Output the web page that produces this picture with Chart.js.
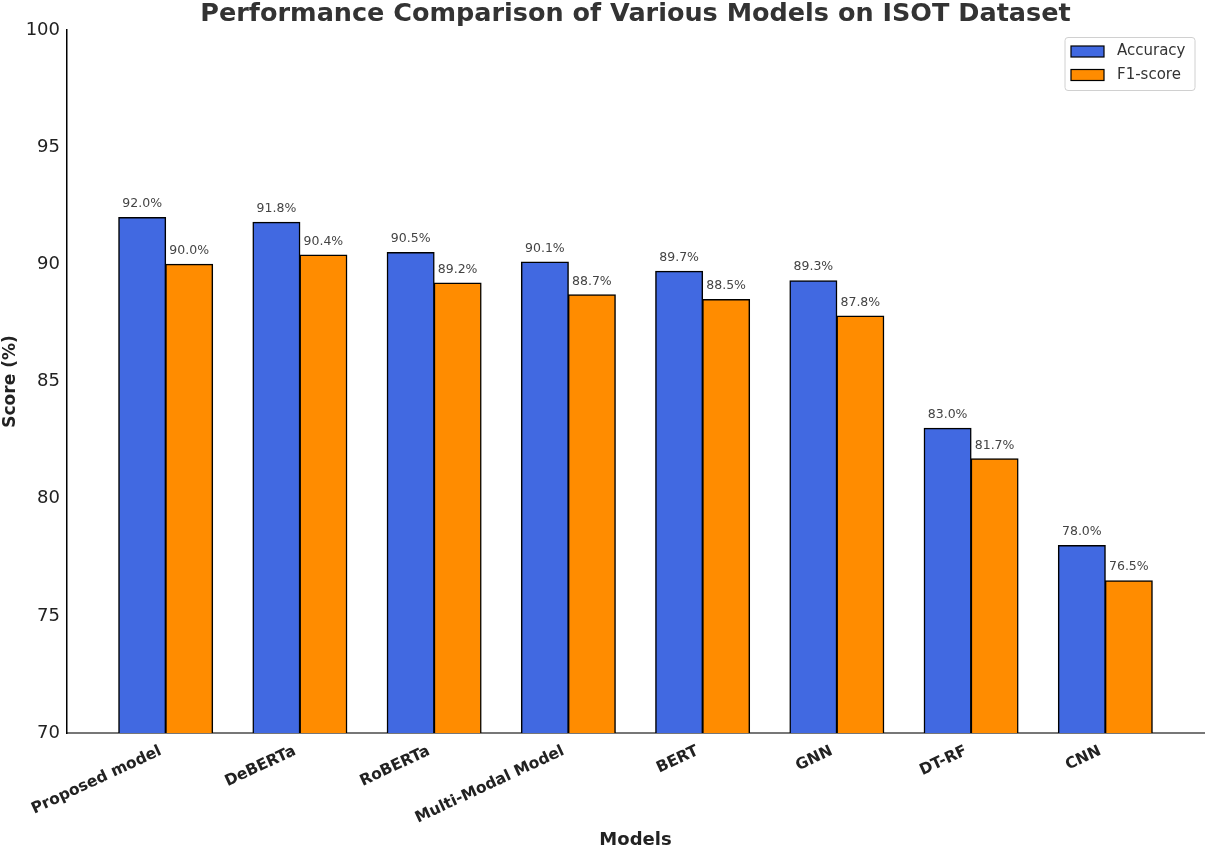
<!DOCTYPE html>
<html>
<head>
<meta charset="utf-8">
<script src="https://cdn.jsdelivr.net/npm/chart.js@4.4.1/dist/chart.umd.min.js"></script>
<style>
  html, body { margin: 0; padding: 0; background: #fff; }
  #wrap { width: 1205px; height: 846px; }
</style>
</head>
<body>
<div id="wrap"><canvas id="chart"></canvas></div>
<script>
const models = ['Proposed model', 'DeBERTa', 'RoBERTa', 'Multi-Modal Model', 'BERT', 'GNN', 'DT-RF', 'CNN'];
const accuracy = [92.0, 91.8, 90.5, 90.1, 89.7, 89.3, 83.0, 78.0];
const f1Score = [90.0, 90.4, 89.2, 88.7, 88.5, 87.8, 81.7, 76.5];
const yTicks = [70, 75, 80, 85, 90, 95, 100];
const chartTitle = 'Performance Comparison of Various Models on ISOT Dataset';

const FONT = "'DejaVu Sans', sans-serif";

// title centred over the plot area (like matplotlib), not the canvas
const axesTitle = {
    id: 'axesTitle',
    afterDraw(chart) {
        const ctx = chart.ctx;
        const area = chart.chartArea;
        ctx.save();
        ctx.font = 'bold 25.5px ' + FONT;
        ctx.fillStyle = '#333';
        ctx.textAlign = 'center';
        ctx.textBaseline = 'alphabetic';
        ctx.fillText(chartTitle, (area.left + area.right) / 2, 21);
        ctx.restore();
    }
};

// value labels above each bar
const barLabels = {
    id: 'barLabels',
    afterDatasetsDraw(chart) {
        const ctx = chart.ctx;
        ctx.save();
        ctx.font = '12.5px ' + FONT;
        ctx.fillStyle = '#444';
        ctx.textAlign = 'center';
        ctx.textBaseline = 'middle';
        chart.data.datasets.forEach((ds, di) => {
            chart.getDatasetMeta(di).data.forEach((bar, i) => {
                ctx.fillText(ds.data[i].y.toFixed(1) + '%', bar.x, bar.y - 13.5);
            });
        });
        ctx.restore();
    }
};

// matplotlib style legend box in the top right corner
const boxLegend = {
    id: 'boxLegend',
    afterDraw(chart) {
        const ctx = chart.ctx;
        const x = 1065, y = 37.5, w = 130, h = 53;
        ctx.save();
        ctx.fillStyle = 'rgba(255,255,255,0.8)';
        ctx.strokeStyle = '#d0d0d0';
        ctx.lineWidth = 1;
        ctx.beginPath();
        ctx.roundRect(x, y, w, h, 3);
        ctx.fill();
        ctx.stroke();
        ctx.font = '15px ' + FONT;
        ctx.textBaseline = 'middle';
        ctx.textAlign = 'left';
        chart.data.datasets.forEach((ds, i) => {
            const cy = 51.5 + i * 23.5;
            ctx.fillStyle = ds.backgroundColor;
            ctx.fillRect(1071, cy - 5.5, 33, 11);
            ctx.strokeStyle = '#000';
            ctx.lineWidth = 1.2;
            ctx.strokeRect(1071, cy - 5.5, 33, 11);
            ctx.fillStyle = '#333';
            ctx.fillText(ds.label, 1117, cy);
        });
        ctx.restore();
    }
};

new Chart(document.getElementById('chart'), {
    type: 'bar',
    data: {
        datasets: [
            {
                label: 'Accuracy',
                data: accuracy.map((v, i) => ({ x: i, y: v })),
                backgroundColor: '#4169E1',
                borderColor: '#000',
                borderWidth: 1.5,
                inflateAmount: 0.5
            },
            {
                label: 'F1-score',
                data: f1Score.map((v, i) => ({ x: i, y: v })),
                backgroundColor: '#FF8C00',
                borderColor: '#000',
                borderWidth: 1.5,
                inflateAmount: 0.5
            }
        ]
    },
    options: {
        responsive: true,
        maintainAspectRatio: false,
        animation: false,
        devicePixelRatio: 1,
        categoryPercentage: 0.7,
        barPercentage: 1.0,
        layout: { padding: { top: 30, right: 1 } },
        plugins: {
            legend: { display: false },
            tooltip: { enabled: false },
            title: { display: false }
        },
        scales: {
            x: {
                type: 'linear',
                offset: false,
                min: -0.735,
                max: 7.735,
                grid: { display: false, drawTicks: false },
                border: { display: true, color: '#777', width: 2 },
                afterBuildTicks(scale) {
                    scale.ticks = models.map((m, i) => ({ value: i }));
                },
                afterFit(scale) { scale.height = 113; },
                ticks: {
                    autoSkip: false,
                    minRotation: 25,
                    maxRotation: 25,
                    padding: 9,
                    labelOffset: -5,
                    color: '#222',
                    font: { family: FONT, size: 15.5, weight: 'bold' },
                    callback: (v) => models[v]
                },
                title: {
                    display: true,
                    text: 'Models',
                    color: '#222',
                    font: { family: FONT, size: 18, weight: 'bold', lineHeight: 1.2 },
                    padding: { top: 0, bottom: -5 }
                }
            },
            y: {
                min: 70,
                max: 100,
                grid: { display: false, drawTicks: false },
                border: { display: true, color: '#000', width: 1.5 },
                afterBuildTicks(scale) {
                    scale.ticks = yTicks.map(v => ({ value: v }));
                },
                afterFit(scale) { scale.width = 67; },
                ticks: {
                    padding: 7,
                    color: '#222',
                    font: { family: FONT, size: 18 }
                },
                title: {
                    display: true,
                    text: 'Score (%)',
                    color: '#222',
                    font: { family: FONT, size: 17, weight: 'bold', lineHeight: 1.2 },
                    padding: 0
                }
            }
        }
    },
    plugins: [axesTitle, barLabels, boxLegend]
});
</script>
</body>
</html>
